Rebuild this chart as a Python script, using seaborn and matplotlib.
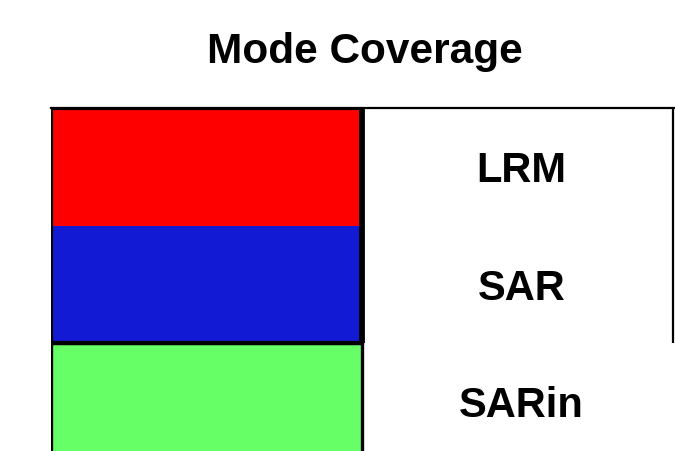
import matplotlib
matplotlib.use("Agg")
import matplotlib.pyplot as plt
import matplotlib.transforms as mtransforms
import seaborn as sns
import pandas as pd

modes = ["LRM", "SAR", "SARin"]
coverage = [1, 1, 1]
colors = ["#ff0000", "#121bd3", "#66ff66"]
boxed = ["LRM", "SAR"]          # labels framed on the right
group_a = ["LRM", "SAR"]        # outlined together
group_b = ["SARin"]

sns.set_style("white")
plt.rcParams["font.family"] = ["Liberation Sans", "DejaVu Sans"]

W, H = 675, 451
fig = plt.figure(figsize=(W / 100, H / 100), dpi=100)
ux, uy = 311, 117.5
left_px, top_px = 51, 108
xmax = 2.03
ax_w = ux * xmax
ax_h = uy * 3
ax = fig.add_axes([left_px / W, (H - top_px - ax_h) / H, ax_w / W, ax_h / H])

df = pd.DataFrame({"mode": modes, "coverage": coverage})
sns.barplot(data=df, x="coverage", y="mode", hue="mode", palette=colors,
            orient="h", width=1, linewidth=0, saturation=1, legend=False, ax=ax)

def span(group):
    idx = [modes.index(m) for m in group]
    return min(idx) - 0.5, max(idx) + 0.5

def outline(group, lw):
    lo, hi = span(group)
    ax.barh(y=(lo + hi) / 2, width=max(coverage), left=0, height=hi - lo,
            fill=False, edgecolor="black", linewidth=lw, zorder=3)

outline(group_a, 3.0)
outline(group_b, 2.4)
lo, hi = span(group_a)
ax.vlines(max(coverage), lo, hi, color="black", linewidth=4.2, zorder=4)
lo, hi = span(boxed)
ax.vlines(2 * max(coverage), lo, hi, color="black", linewidth=1.6, zorder=3)

label_tr = mtransforms.offset_copy(ax.transData, fig=fig, x=4, y=0, units="dots")
for i, m in enumerate(modes):
    ax.text(1.5 * max(coverage), i, m, ha="center", va="center_baseline",
            fontsize=30, fontweight="bold", color="black", transform=label_tr)

ax.set_xlim(0, xmax)
ax.set_ylim(2.5, -0.5)
ax.set_xticks([])
ax.set_yticks([])
ax.set_xlabel("")
ax.set_ylabel("")
for s in ["left", "right", "bottom"]:
    ax.spines[s].set_visible(False)
ax.spines["top"].set_visible(True)
ax.spines["top"].set_color("black")
ax.spines["top"].set_linewidth(1.6)

fig.text(365 / W, 1 - 47.5 / H, "Mode Coverage", ha="center", va="center_baseline",
         fontsize=30.5, fontweight="bold", color="black")

fig.savefig("out.png", dpi=100)
